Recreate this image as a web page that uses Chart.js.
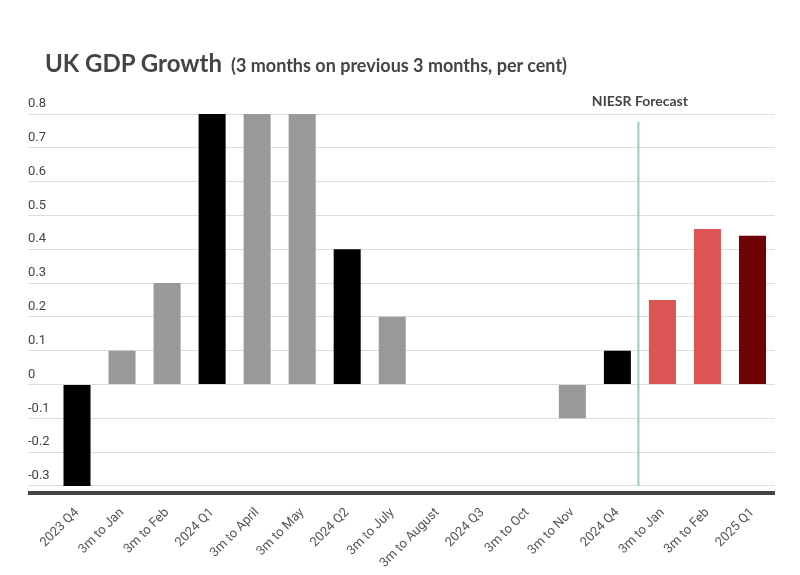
<!DOCTYPE html>
<html>
<head>
<meta charset="utf-8">
<script src="https://cdn.jsdelivr.net/npm/chart.js@4.4.1/dist/chart.umd.min.js"></script>
<style>
  html, body { margin: 0; padding: 0; background: #fff; }
  #wrap { position: relative; width: 800px; height: 575px; }
  #title { position: absolute; left: 45px; top: 48px; color: #444; font-family: Lato, sans-serif; font-weight: 700; white-space: nowrap; }
  #title .main { font-size: 24px; }
  #title .sub { font-size: 18px; margin-left: 9px; }
</style>
</head>
<body>
<div id="wrap">
  <canvas id="myChart" width="800" height="575"></canvas>
  <div id="title"><span class="main">UK GDP Growth</span><span class="sub">(3 months on previous 3 months, per cent)</span></div>
</div>
<script>
var labels = ['2023 Q4', '3m to Jan', '3m to Feb', '2024 Q1', '3m to April', '3m to May',
    '2024 Q2', '3m to July', '3m to August', '2024 Q3', '3m to Oct', '3m to Nov',
    '2024 Q4', '3m to Jan', '3m to Feb', '2025 Q1'];
var growth = [-0.3, 0.1, 0.3, 0.8, 0.8, 0.8, 0.4, 0.2, 0, 0, 0, -0.1, 0.1, 0.25, 0.46, 0.44];
// q = published quarter, m = rolling 3 months, fm = forecast month, fq = forecast quarter
var kinds = ['q', 'm', 'm', 'q', 'm', 'm', 'q', 'm', 'm', 'q', 'm', 'm', 'q', 'fm', 'fm', 'fq'];
var yTicks = [-0.3, -0.2, -0.1, 0, 0.1, 0.2, 0.3, 0.4, 0.5, 0.6, 0.7, 0.8];
var forecastText = 'NIESR Forecast';
var forecastAfter = 12; // line drawn after this category index

var kindColors = { q: '#000000', m: '#999999', fm: '#dc5555', fq: '#6e0207' };
var yMin = -0.321;
var yMax = 0.8;

var forecastPlugin = {
    id: 'forecast',
    afterDatasetsDraw: function(chart) {
        var ctx = chart.ctx;
        var x = (chart.scales.x.getPixelForValue(forecastAfter) + chart.scales.x.getPixelForValue(forecastAfter + 1)) / 2 - 1.5;
        var y = chart.scales.y;
        ctx.save();
        ctx.strokeStyle = '#98d1b0';
        ctx.lineWidth = 2;
        ctx.beginPath();
        ctx.moveTo(x, y.getPixelForValue(0.777));
        ctx.lineTo(x, y.getPixelForValue(-0.3));
        ctx.stroke();
        ctx.fillStyle = '#444';
        ctx.font = 'bold 14px Lato';
        ctx.textAlign = 'center';
        ctx.textBaseline = 'alphabetic';
        ctx.fillText(forecastText, x + 1.5, chart.chartArea.top - 8);
        ctx.restore();
    }
};

var myChart;

function init_chart() {
    var ctx = document.getElementById('myChart').getContext('2d');

    const data = {
        labels: labels,
        datasets: [{
            label: 'GDP growth',
            data: growth,
            backgroundColor: kinds.map(function(k) { return kindColors[k]; }),
            barPercentage: 0.6,
            categoryPercentage: 1.0
        }]
    };

    const config = {
        type: 'bar',
        data: data,
        plugins: [forecastPlugin],
        options: {
            responsive: false,
            animation: false,
            layout: { padding: { left: 28, right: 25, top: 114, bottom: 0 } },
            plugins: {
                legend: { display: false },
                tooltip: { enabled: false }
            },
            scales: {
                x: {
                    grid: { display: false },
                    border: { display: false },
                    ticks: {
                        color: '#555',
                        font: { family: 'Roboto', size: 13 },
                        minRotation: 45,
                        maxRotation: 45,
                        autoSkip: false,
                        padding: 4
                    }
                },
                y: {
                    min: yMin,
                    max: yMax,
                    afterBuildTicks: function(s) {
                        s.ticks = [yMin].concat(yTicks).map(function(v) { return { value: v }; });
                    },
                    afterFit: function(s) { s.width = 26.5; },
                    border: { display: false },
                    grid: {
                        tickLength: 26.5,
                        color: function(c) { return c.tick && c.tick.value === yMin ? '#444' : '#dcdcdc'; },
                        lineWidth: function(c) { return c.tick && c.tick.value === yMin ? 4 : 1; }
                    },
                    ticks: {
                        crossAlign: 'far',
                        labelOffset: -10,
                        color: '#444',
                        font: { family: 'Roboto', size: 13 },
                        callback: function(v) { return v === yMin ? '' : String(Number(v.toFixed(1))); }
                    }
                }
            }
        }
    };

    myChart = new Chart(ctx, config);
}

init_chart();
</script>
</body>
</html>
